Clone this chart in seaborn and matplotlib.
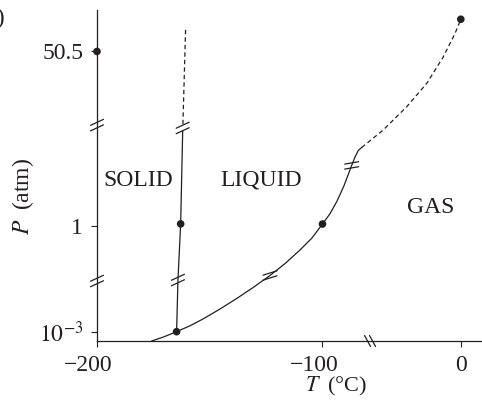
import numpy as np
import matplotlib
matplotlib.use('Agg')
import matplotlib.pyplot as plt
import seaborn as sns
from matplotlib.lines import Line2D
from matplotlib.transforms import IdentityTransform, ScaledTranslation
from matplotlib.ticker import FixedLocator, FixedFormatter

# ---------------- data (T in °C, P in atm) ----------------
melt_T = [-164.7, -164.1, -162.9, -162.0]
melt_P = [1.0e-3, 0.0298, 1.06, 8.5]
melt_dash_T = [-161.9, -160.7]
melt_dash_P = [9.9, 85.0]
boil_T = [-175.74, -170.29, -164.75, -158.76, -152.86, -145.45, -138.05,
          -130.82, -123.28, -116.63, -109.98, -104.66, -100.0,
          -94.60, -89.57, -84.53, -78.99, -76.62, -74.24, -71.80]
boil_P = [5.43e-4, 7.16e-4, 1.0e-3, 1.475e-3, 2.33e-3, 4.44e-3, 8.85e-3,
          0.0181, 0.0401, 0.0875, 0.2138, 0.470, 1.057,
          1.332, 1.763, 2.495, 3.932, 4.748, 5.492, 5.873]
boil_dash_T = [-71.8, -56.3, -39.4, -24.9, -13.0, -4.6, -0.5]
boil_dash_P = [5.873, 8.69, 14.66, 24.8, 45.0, 75.9, 104.0]
point_T = [-200, -162.9, -164.7, -100, -0.5]
point_P = [50.5, 1.06, 1.0e-3, 1.057, 104.0]

x_ticks = [-200, -100, 0]
x_ticklabels = ['\u2212200', '\u2212100', '0']
y_ticks = [1e-3, 1, 50.5]
y_ticklabels = [r'$10^{-3}$', '1', '50.5']

region_labels = ['SOLID', 'LIQUID', 'GAS']

INK = '#231f20'
FS = 17

# ---------------- broken-axis scales ----------------
def fx(T):
    T = np.asarray(T, dtype=float)
    return np.where(T <= -100, (T + 200) * 2.255, 225.5 + (T + 100) * 1.39)

def fx_inv(u):
    u = np.asarray(u, dtype=float)
    return np.where(u <= 225.5, u / 2.255 - 200, (u - 225.5) / 1.39 - 100)

def fy(P):
    P = np.asarray(P, dtype=float)
    lp = np.log10(np.clip(P, 1e-300, None))
    return np.where(lp <= 0, lp * 35.07, lp * 102.74)

def fy_inv(v):
    v = np.asarray(v, dtype=float)
    return np.where(v <= 0, 10 ** (v / 35.07), 10 ** (v / 102.74))

sns.set_theme(style='ticks')
plt.rcParams['font.family'] = ['Liberation Serif', 'DejaVu Serif']
plt.rcParams['mathtext.fontset'] = 'stix'
plt.rcParams['text.color'] = INK
plt.rcParams['axes.labelcolor'] = INK

fig = plt.figure(figsize=(4.82, 4.01), dpi=100)
ax = fig.add_axes([97 / 482, 60 / 401, 385 / 482, 331 / 401])
ax.set_xscale('function', functions=(fx, fx_inv))
ax.set_yscale('function', functions=(fy, fy_inv))

lw = 0.9
sns.lineplot(x=melt_T, y=melt_P, sort=False, estimator=None, color=INK, lw=lw, ax=ax)
sns.lineplot(x=melt_dash_T, y=melt_dash_P, sort=False, estimator=None, color=INK,
             lw=lw, ax=ax, dashes=False, linestyle=(0, (3.5, 2.5)))
sns.lineplot(x=boil_T, y=boil_P, sort=False, estimator=None, color=INK, lw=lw, ax=ax)
sns.lineplot(x=boil_dash_T, y=boil_dash_P, sort=False, estimator=None, color=INK,
             lw=lw, ax=ax, dashes=False, linestyle=(0, (3.5, 2.5)))
sns.scatterplot(x=point_T, y=point_P, color=INK, s=30, edgecolor='none', ax=ax,
                zorder=5, clip_on=False)

ax.set_xlim(-200, 14.75)
ax.set_ylim(10 ** -3.265, 10 ** 2.107)

ax.xaxis.set_major_locator(FixedLocator(x_ticks))
ax.xaxis.set_major_formatter(FixedFormatter(x_ticklabels))
ax.yaxis.set_major_locator(FixedLocator(y_ticks))
ax.yaxis.set_major_formatter(FixedFormatter(y_ticklabels))
ax.xaxis.set_minor_locator(FixedLocator([]))
ax.yaxis.set_minor_locator(FixedLocator([]))
ax.tick_params(axis='both', direction='out', length=4, width=0.8, color=INK,
               labelcolor=INK, labelsize=FS)
ax.tick_params(axis='x', pad=6)
ax.tick_params(axis='y', pad=6)

# center the digits (not the minus sign) under the tick
for lab, txt in zip(ax.get_xticklabels(), x_ticklabels):
    if txt.startswith('\u2212'):
        lab.set_transform(lab.get_transform() +
                          ScaledTranslation(-0.085, 0, fig.dpi_scale_trans))

for s in ['top', 'right']:
    ax.spines[s].set_visible(False)
for s in ['left', 'bottom']:
    ax.spines[s].set_color(INK)
    ax.spines[s].set_linewidth(0.9)

ax.set_xlabel(r'$T$' + ' \u2009(°C)', fontsize=16, color=INK)
ax.xaxis.set_label_coords(0.62, -0.102)
ax.set_ylabel(r'$P$' + ' \u2009(atm)', fontsize=FS, color=INK)
ax.yaxis.set_label_coords(-0.158, 0.438)

ax.text(0.1065, 0.486, region_labels[0], transform=ax.transAxes, ha='center',
        va='center', fontsize=FS, color=INK)
ax.text(0.426, 0.486, region_labels[1], transform=ax.transAxes, ha='center',
        va='center', fontsize=FS, color=INK)
ax.text(0.868, 0.402, region_labels[2], transform=ax.transAxes, ha='center',
        va='center', fontsize=FS, color=INK)

fig.text(5 / 482, 1 - 18 / 401, '(b)', ha='right', va='center', fontsize=FS, color=INK)

# ---------------- break marks ----------------
def breakmark(T, P, half, sep, on_axes_bottom=False):
    if on_axes_bottom:
        cx, _ = ax.transData.transform((T, 1.0))
        _, cy = ax.transAxes.transform((0, 0))
    else:
        cx, cy = ax.transData.transform((T, P))
    hx, hy = half
    sx, sy = sep
    for k in (-0.5, 0.5):
        ox, oy = cx + k * sx, cy + k * sy
        ax.add_line(Line2D([ox - hx, ox + hx], [oy - hy, oy + hy], color=INK,
                           lw=0.9, transform=IdentityTransform(), clip_on=False,
                           zorder=6))

fig.canvas.draw()
breakmark(-200, 9.7, (6.5, 3.0), (0, 5.5))
breakmark(-200, 0.0279, (6.5, 3.0), (0, 5.5))
breakmark(-162.0, 9.1, (6.5, 3.0), (0, 5.5))
breakmark(-164.1, 0.0298, (6.5, 3.0), (0, 5.5))
breakmark(-123.28, 0.0401, (7.0, 2.2), (0, 5.0))
breakmark(-78.99, 3.932, (7.0, 1.2), (0, 5.0))
breakmark(-65.8, None, (3.0, -5.5), (5.0, 0), on_axes_bottom=True)

fig.savefig('out.png', dpi=100)
